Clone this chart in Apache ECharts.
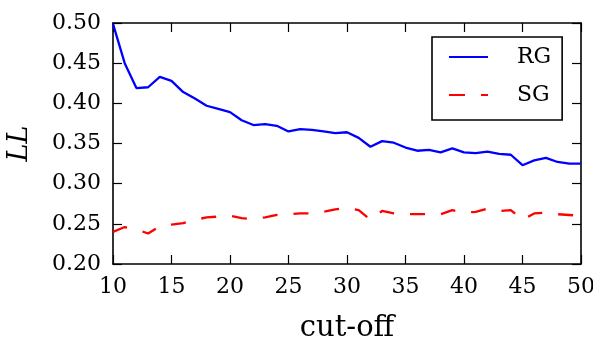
<!DOCTYPE html>
<html>
<head>
<meta charset="utf-8">
<script src="https://cdn.jsdelivr.net/npm/echarts@6/dist/echarts.min.js"></script>
<style>
  html, body { margin: 0; padding: 0; background: #fff; }
  #chart { width: 593px; height: 342px; }
</style>
</head>
<body>
<div id="chart"></div>
<script>
// cut-off values on the x axis
var cutoffs = [];
for (var c = 10; c <= 50; c++) cutoffs.push(c);

var rgValues = [0.499, 0.450, 0.419, 0.420, 0.433, 0.428, 0.414, 0.406, 0.397, 0.393,
  0.389, 0.379, 0.373, 0.374, 0.372, 0.365, 0.368, 0.367, 0.365, 0.363,
  0.364, 0.357, 0.346, 0.353, 0.351, 0.345, 0.341, 0.342, 0.339, 0.344,
  0.339, 0.338, 0.340, 0.337, 0.336, 0.323, 0.329, 0.332, 0.327, 0.325, 0.325];

var sgValues = [0.240, 0.246, 0.243, 0.238, 0.247, 0.249, 0.251, 0.255, 0.258, 0.259,
  0.260, 0.257, 0.256, 0.258, 0.261, 0.262, 0.263, 0.263, 0.265, 0.268,
  0.270, 0.267, 0.255, 0.266, 0.263, 0.262, 0.262, 0.262, 0.262, 0.267,
  0.264, 0.265, 0.269, 0.266, 0.267, 0.255, 0.263, 0.264, 0.262, 0.261, 0.260];

var yTicks = [0.20, 0.25, 0.30, 0.35, 0.40, 0.45, 0.50];
var xTicks = [10, 15, 20, 25, 30, 35, 40, 45, 50];

var pairs = function (vals) {
  return cutoffs.map(function (x, i) { return [x, vals[i]]; });
};

var font = 'DejaVu Serif';
var frame = { show: true, onZero: false, lineStyle: { color: '#000', width: 1.6 } };
var ticks = { show: true, inside: true, length: 9, lineStyle: { color: '#000', width: 1.2 } };

var myCharts = echarts.init(document.getElementById('chart'));
var options = {
  backgroundColor: '#fff',
  animation: false,
  grid: { left: 113, right: 12, top: 23, bottom: 78, containLabel: false, outerBoundsMode: 'none' },
  legend: {
    left: 432,
    top: 37,
    orient: 'vertical',
    padding: [9, 11, 14, 17],
    itemWidth: 39,
    itemHeight: 2.5,
    itemGap: 16,
    borderColor: '#000',
    borderWidth: 1.6,
    borderRadius: 0,
    backgroundColor: '#fff',
    textStyle: { fontFamily: font, fontSize: 22, color: '#000', lineHeight: 22, padding: [0, 0, 0, 24] },
    data: [
      { name: 'RG', icon: 'path://M0,0H39V2H0Z' },
      { name: 'SG', icon: 'path://M0,0H16V2H0Z M32,0H39V2H32Z' }
    ]
  },
  xAxis: [
    {
      type: 'value', min: 10, max: 50, interval: 5, position: 'bottom',
      axisLine: frame, axisTick: ticks, splitLine: { show: false },
      axisLabel: { fontFamily: font, fontSize: 22, color: '#000', margin: 12 },
      name: 'cut-off', nameLocation: 'middle', nameGap: 50,
      nameTextStyle: { fontFamily: font, fontSize: 29, color: '#000' }
    },
    {
      type: 'value', min: 10, max: 50, interval: 5, position: 'top',
      axisLine: frame, axisTick: ticks, splitLine: { show: false },
      axisLabel: { show: false }
    }
  ],
  yAxis: [
    {
      type: 'value', min: 0.2, max: 0.5, interval: 0.05, position: 'left',
      axisLine: frame, axisTick: ticks, splitLine: { show: false },
      axisLabel: {
        fontFamily: font, fontSize: 22, color: '#000', margin: 12,
        formatter: function (v) { return v.toFixed(2); }
      },
      name: 'LL', nameLocation: 'middle', nameGap: 80, nameRotate: 90,
      nameTextStyle: { fontFamily: font, fontSize: 27, fontStyle: 'italic', color: '#000' }
    },
    {
      type: 'value', min: 0.2, max: 0.5, interval: 0.05, position: 'right',
      axisLine: frame, axisTick: ticks, splitLine: { show: false },
      axisLabel: { show: false }
    }
  ],
  series: [
    {
      name: 'RG', type: 'line', xAxisIndex: 0, yAxisIndex: 0,
      data: pairs(rgValues), showSymbol: false, symbol: 'none',
      lineStyle: { color: '#0000ff', width: 2.3 }, itemStyle: { color: '#0000ff' }
    },
    {
      name: 'SG', type: 'line', xAxisIndex: 0, yAxisIndex: 0,
      data: pairs(sgValues), showSymbol: false, symbol: 'none',
      lineStyle: { color: '#ff0000', width: 2.3, type: [15, 16] }, itemStyle: { color: '#ff0000' }
    }
  ]
};

myCharts.setOption(options);
</script>
</body>
</html>
